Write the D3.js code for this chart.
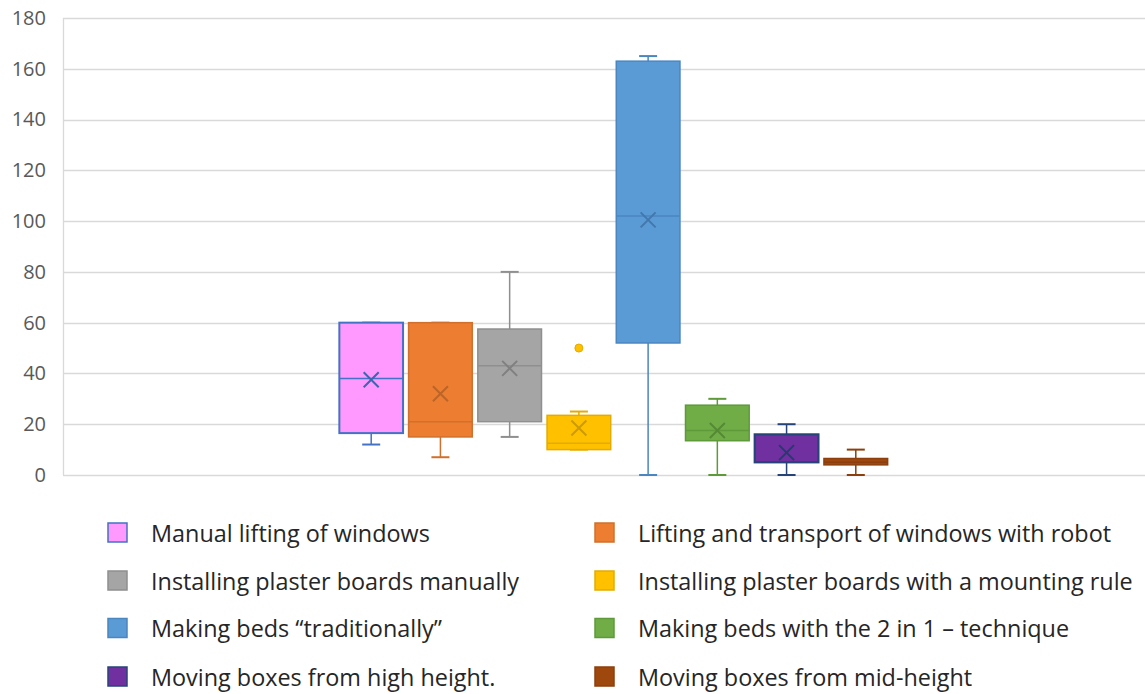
<!DOCTYPE html>
<html>
<head>
<meta charset="utf-8">
<script src="https://cdn.jsdelivr.net/npm/d3@7"></script>
<style>
  html, body { margin: 0; padding: 0; background: #fff; }
  svg { display: block; font-family: "Open Sans", "Noto Sans", sans-serif; }
</style>
</head>
<body>
<svg id="chart" width="1145" height="694"></svg>
<script>
// ---------- data ----------
const seriesNames = [
  "Manual lifting of windows",
  "Lifting and transport of windows with robot",
  "Installing plaster boards manually",
  "Installing plaster boards with a mounting rule",
  "Making beds \u201ctraditionally\u201d",
  "Making beds with the 2 in 1 \u2013 technique",
  "Moving boxes from high height.",
  "Moving boxes from mid-height"
];
const minValues    = [12, 7, 15, 10, 0, 0, 0, 0];
const q1Values     = [16.5, 15, 21, 10, 52, 13.5, 5, 4];
const medianValues = [38, 21, 43, 12.5, 102, 17.5, 5, 5];
const q3Values     = [60, 60, 57.5, 23.5, 163, 27.5, 16, 6.5];
const maxValues    = [60, 60, 80, 25, 165, 30, 20, 10];
const meanValues   = [37.5, 32, 42, 18.5, 100.5, 17.5, 8.8, 5];
const meanShown    = [true, true, true, true, true, true, true, false];
const outlierValues = [[], [], [], [50], [], [], [], []];
const yTicks = [0, 20, 40, 60, 80, 100, 120, 140, 160, 180];

// ---------- styles ----------
const fills   = ["#FF99FF", "#ED7D31", "#A5A5A5", "#FFC000", "#5B9BD5", "#70AD47", "#7030A0", "#9E480E"];
const strokes = ["#4472C4", "#D0702C", "#8F8F8F", "#E3AC00", "#4A86C0", "#5E9A3A", "#264478", "#8C3F0C"];
const strokeW = [2, 1.5, 1.5, 1.5, 1.5, 1.5, 2.2, 1.5];

const svg = d3.select("#chart");
const plot = { left: 63, right: 1164, top: 18, bottom: 475 };

const y = d3.scaleLinear().domain([0, 180]).range([plot.bottom, plot.top]);
const xOuter = d3.scaleBand().domain(["all"]).range([plot.left, plot.right]).paddingOuter(0.494);
const xInner = d3.scaleBand().domain(seriesNames).range([0, xOuter.bandwidth()]).paddingInner(0.08).paddingOuter(0.04);

// gridlines
const grid = svg.append("g");
grid.selectAll("line").data(yTicks).join("line")
  .attr("x1", plot.left).attr("x2", 1145)
  .attr("y1", d => Math.round(y(d)) + 0.5).attr("y2", d => Math.round(y(d)) + 0.5)
  .attr("stroke", "#D9D9D9").attr("stroke-width", 1.3);
grid.append("line")
  .attr("x1", plot.left + 0.5).attr("x2", plot.left + 0.5)
  .attr("y1", y(180)).attr("y2", y(0))
  .attr("stroke", "#D9D9D9").attr("stroke-width", 1.3);

// y axis labels
const yAxis = d3.axisLeft(y).tickValues(yTicks).tickSize(0).tickPadding(0);
const yg = svg.append("g").attr("transform", `translate(46,0)`).call(yAxis);
yg.select(".domain").remove();
yg.selectAll("text").attr("font-size", 20).attr("fill", "#595959")
  .attr("font-family", "'Open Sans', sans-serif");

// boxes
const rows = seriesNames.map((name, i) => ({
  name, i,
  min: minValues[i], q1: q1Values[i], med: medianValues[i], q3: q3Values[i],
  max: maxValues[i], mean: meanValues[i], out: outlierValues[i]
}));

const boxes = svg.append("g").attr("transform", `translate(${xOuter("all")},0)`);
const bw = xInner.bandwidth();
const capW = 18;

rows.forEach(d => {
  const g = boxes.append("g");
  const x0 = xInner(d.name), cx = x0 + bw / 2;
  const col = strokes[d.i], sw = strokeW[d.i];
  // whiskers
  g.append("line").attr("x1", cx).attr("x2", cx).attr("y1", y(d.max)).attr("y2", y(d.q3))
    .attr("stroke", col).attr("stroke-width", 1.5);
  g.append("line").attr("x1", cx).attr("x2", cx).attr("y1", y(d.q1)).attr("y2", y(d.min))
    .attr("stroke", col).attr("stroke-width", 1.5);
  [d.max, d.min].forEach(v => {
    g.append("line").attr("x1", cx - capW / 2).attr("x2", cx + capW / 2)
      .attr("y1", y(v)).attr("y2", y(v)).attr("stroke", col).attr("stroke-width", 2);
  });
  // box
  g.append("rect").attr("x", x0).attr("width", bw)
    .attr("y", y(d.q3)).attr("height", y(d.q1) - y(d.q3))
    .attr("fill", fills[d.i]).attr("stroke", col).attr("stroke-width", sw);
  // median
  g.append("line").attr("x1", x0).attr("x2", x0 + bw)
    .attr("y1", y(d.med)).attr("y2", y(d.med)).attr("stroke", col).attr("stroke-width", 1.5);
  // mean marker X
  if (meanShown[d.i]) {
    const my = y(d.mean), s = 7.5;
    g.append("path")
      .attr("d", `M${cx - s},${my - s}L${cx + s},${my + s}M${cx - s},${my + s}L${cx + s},${my - s}`)
      .attr("stroke", d3.color(col).darker(0.3)).attr("stroke-width", 2).attr("fill", "none");
  }
  // outliers
  d.out.forEach(v => {
    g.append("circle").attr("cx", cx).attr("cy", y(v)).attr("r", 4)
      .attr("fill", fills[d.i]).attr("stroke", col).attr("stroke-width", 1);
  });
});

// legend
const legend = svg.append("g");
const colX = [108, 595], textX = [151, 638];
const rowY = [533, 581, 628.5, 677];
rows.forEach(d => {
  const c = d.i % 2, r = Math.floor(d.i / 2);
  legend.append("rect").attr("x", colX[c]).attr("y", rowY[r] - 10)
    .attr("width", 19).attr("height", 19)
    .attr("fill", fills[d.i]).attr("stroke", strokes[d.i]).attr("stroke-width", 1.5);
  legend.append("text").attr("x", textX[c]).attr("y", rowY[r] + 8.5)
    .attr("font-size", 23.4).attr("fill", "#262626").text(d.name);
});
</script>
</body>
</html>
